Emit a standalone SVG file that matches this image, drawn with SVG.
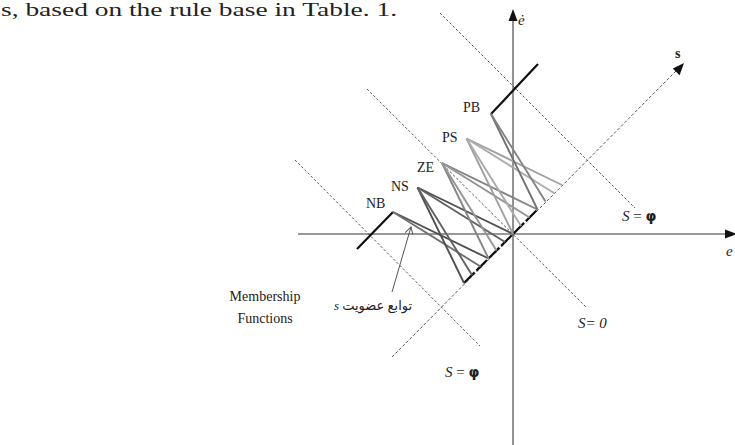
<svg xmlns="http://www.w3.org/2000/svg" width="735" height="445" viewBox="0 0 735 445">
<defs>
<style>
.t{font-family:"Liberation Serif","Times New Roman",serif;fill:#222}
.ax{stroke:#777;stroke-width:1.6;fill:none}
.dl{stroke:#444;stroke-width:0.9;stroke-dasharray:2.5 2;fill:none}
.sx{stroke:#555;stroke-width:1;stroke-dasharray:3 2;fill:none}
.blk{stroke:#111;stroke-width:2.2;fill:none}
.mf{fill:none;stroke-width:1.9}
</style>
<marker id="open" markerWidth="10" markerHeight="10" refX="8" refY="5" orient="auto" markerUnits="userSpaceOnUse">
<path d="M1,1 L8,5 L1,9" fill="none" stroke="#555" stroke-width="1"/>
</marker>
</defs>
<rect width="735" height="445" fill="#fff"/>
<text class="t" x="1" y="16" font-size="18" textLength="396" lengthAdjust="spacingAndGlyphs">s, based on the rule base in Table. 1.</text>

<g id="axes">
<line class="ax" x1="513" y1="18" x2="513" y2="445"/>
<path d="M513,9 L517.5,21 L508.5,21 Z" fill="#111"/>
<line class="ax" x1="298" y1="234" x2="728" y2="234"/>
<path d="M737,234 L725,238.5 L725,229.5 Z" fill="#111"/>
<text class="t" x="518" y="25" font-size="15" font-style="italic">ė</text>
<text class="t" x="726" y="256" font-size="15" font-style="italic">e</text>
</g>

<g id="s-axis">
<line class="sx" x1="392" y1="357" x2="678" y2="69"/>
<path d="M684,63 L679.6,75.2 L672.8,68.4 Z" fill="#111"/>
<text class="t" x="675" y="58" font-size="14" font-weight="bold">s</text>
</g>

<g id="switching-lines">
<line class="dl" x1="440" y1="13" x2="635" y2="208"/>
<line class="dl" x1="367" y1="89" x2="587" y2="308"/>
<line class="dl" x1="295" y1="160" x2="480" y2="346"/>
<text class="t" x="622" y="221" font-size="15"><tspan font-style="italic">S</tspan> = <tspan font-family="DejaVu Sans, sans-serif" font-weight="bold" font-size="14">φ</tspan></text>
<text class="t" x="578" y="328" font-size="15" font-style="italic">S= 0</text>
<text class="t" x="445" y="377" font-size="15"><tspan font-style="italic">S</tspan> =    <tspan font-family="DejaVu Sans, sans-serif" font-weight="bold" font-size="14">φ</tspan></text>
</g>

<g id="connectors">
<line class="blk" x1="464" y1="283" x2="537.5" y2="209.5" stroke-dasharray="15 2.5"/>
</g>

<g id="NB">
<line class="blk" x1="357" y1="249" x2="393" y2="212"/>
<line class="mf" stroke="#505050" x1="393" y1="212" x2="488.5" y2="258.5"/>
<line class="mf" stroke="#707070" x1="393" y1="212" x2="480.5" y2="266.5"/>
<text class="t" x="366" y="208" font-size="14">NB</text>
</g>

<g id="NS">
<line class="mf" stroke="#505050" x1="417.5" y1="187.5" x2="464" y2="283"/>
<line class="mf" stroke="#626262" x1="417.5" y1="187.5" x2="472" y2="275"/>
<line class="mf" stroke="#505050" x1="417.5" y1="187.5" x2="513" y2="234"/>
<line class="mf" stroke="#626262" x1="417.5" y1="187.5" x2="505" y2="242"/>
<text class="t" x="391" y="191" font-size="14">NS</text>
</g>

<g id="ZE">
<line class="mf" stroke="#858585" x1="442" y1="163" x2="488.5" y2="258.5"/>
<line class="mf" stroke="#959595" x1="442" y1="163" x2="496.5" y2="250.5"/>
<line class="mf" stroke="#858585" x1="442" y1="163" x2="537.5" y2="209.5"/>
<line class="mf" stroke="#959595" x1="442" y1="163" x2="529.5" y2="217.5"/>
<text class="t" x="417" y="172" font-size="14">ZE</text>
</g>

<g id="PS">
<line class="mf" stroke="#a0a0a0" x1="466.5" y1="138.5" x2="513" y2="234"/>
<line class="mf" stroke="#ababab" x1="466.5" y1="138.5" x2="521" y2="226"/>
<line class="mf" stroke="#a0a0a0" x1="466.5" y1="138.5" x2="562" y2="185"/>
<line class="mf" stroke="#ababab" x1="466.5" y1="138.5" x2="554" y2="193"/>
<text class="t" x="442" y="142" font-size="14">PS</text>
</g>

<g id="PB">
<line class="blk" x1="491" y1="114" x2="538" y2="64"/>
<line class="mf" stroke="#727272" x1="491" y1="114" x2="537.5" y2="209.5"/>
<line class="mf" stroke="#838383" x1="491" y1="114" x2="545.5" y2="201.5"/>
<text class="t" x="463" y="112" font-size="14">PB</text>
</g>

<g id="mf-label">
<line x1="392" y1="292" x2="411" y2="227" stroke="#555" stroke-width="1" marker-end="url(#open)"/>
<text x="373" y="310" font-size="13" text-anchor="middle" direction="rtl" unicode-bidi="embed" font-family="Liberation Serif, DejaVu Sans, serif" fill="#222">توابع عضویت <tspan font-style="italic">s</tspan></text>
</g>

<g id="caption">
<text class="t" x="265" y="301" font-size="14" text-anchor="middle">Membership</text>
<text class="t" x="265" y="323" font-size="14" text-anchor="middle">Functions</text>
</g>
</svg>
